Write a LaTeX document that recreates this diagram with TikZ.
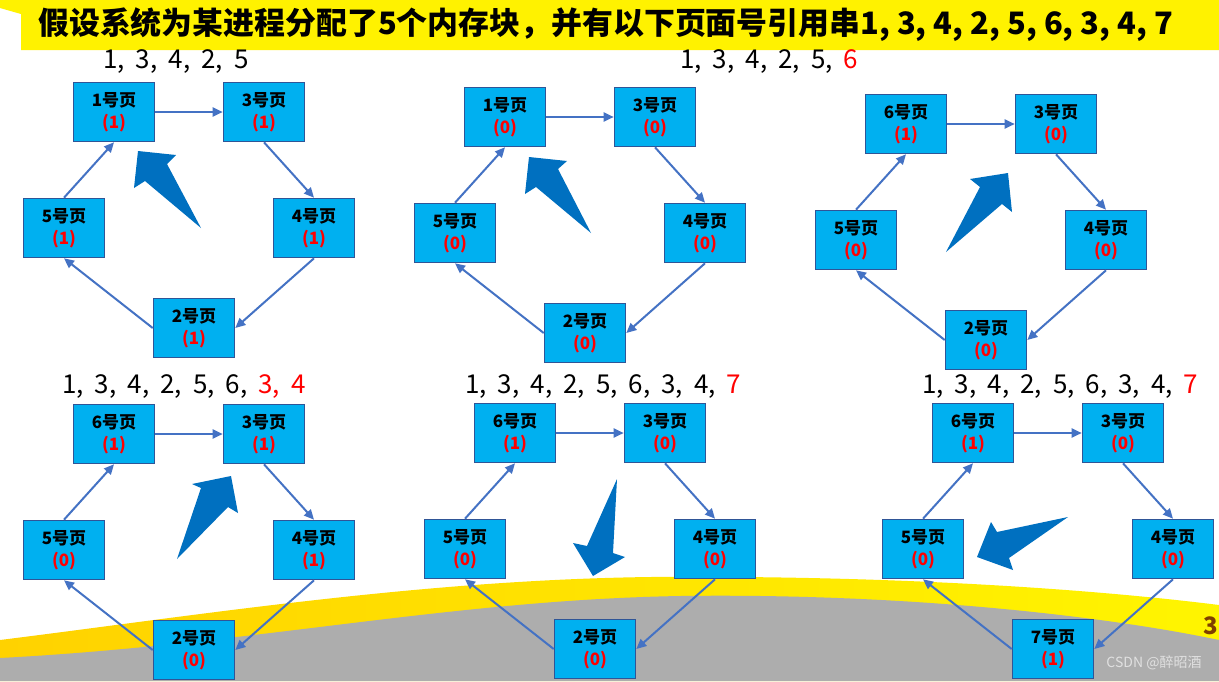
\documentclass[tikz,border=0pt]{standalone}
\usepackage{fontspec}
\setmainfont{Noto Sans CJK SC}
\newfontfamily\seqfont[WordSpace=1.9]{Noto Sans CJK SC}
\usetikzlibrary{arrows.meta}
\definecolor{boxfill}{HTML}{00B0F0}
\definecolor{boxline}{HTML}{2F5597}
\definecolor{linkblue}{HTML}{4472C4}
\definecolor{ptrblue}{HTML}{0070C0}
\definecolor{bandgold}{HTML}{FFD200}
\definecolor{bandyellow}{HTML}{FFF500}
\definecolor{ground}{HTML}{ADADAD}
\definecolor{pagenum}{HTML}{7F3F00}
\begin{document}
\begin{tikzpicture}[x=1pt,y=-1pt,
  pagebox/.style={draw=boxline, line width=1.6pt, fill=boxfill, minimum width=81pt, minimum height=59pt,
    inner sep=0pt, align=center, font=\bfseries\fontsize{17}{22}\selectfont},
  link/.style={draw=linkblue, line width=2pt, -{Triangle[length=10pt,width=9pt]}},
  ptr/.style={fill=ptrblue},
  seq/.style={anchor=base west, inner sep=0pt, font=\seqfont\fontsize{26}{30}\selectfont}]

\useasboundingbox (0,0) rectangle (1219,681);
\fill[white] (0,0) rectangle (1219,681);

% background band and ground
\shade[left color=bandgold, right color=bandyellow] (0,640) .. controls (200,615) and (420,580) .. (650,577)
  .. controls (900,575) and (1100,590) .. (1219,605) -- (1219,681) -- (0,681) -- cycle;
\fill[ground] (0,658) .. controls (250,645) and (450,600) .. (680,596)
  .. controls (900,593) and (1100,615) .. (1219,640) -- (1219,681) -- (0,681) -- cycle;
\node[text=pagenum, font=\bfseries\fontsize{24}{28}\selectfont, anchor=east, inner sep=0pt] (pnum) at (1218,626) {3};
\node[text=white!88!black, font=\fontsize{14}{16}\selectfont, inner sep=0pt] (mark) at (1154,663) {CSDN @醉昭酒};

% title
\fill[yellow] (0,0) -- (1219,0) -- (1219,50) -- (21,50) -- (21,14) -- (0,8) -- cycle;
\node[anchor=west, inner sep=0pt, font=\bfseries\fontsize{30.9}{34}\selectfont] (title) at (38,25)
  {假设系统为某进程分配了5个内存块，并有以下页面号引用串1, 3, 4, 2, 5, 6, 3, 4, 7};

% reference strings
\node[seq] (seqtl) at (103,68) {1, 3, 4, 2, 5};
\node[seq] (seqtm) at (680,68) {1, 3, 4, 2, 5, \textcolor{red}{6}};
\node[seq] (seqbl) at (62,393) {1, 3, 4, 2, 5, 6, \textcolor{red}{3, 4}};
\node[seq] (seqbm) at (465,393) {1, 3, 4, 2, 5, 6, 3, 4, \textcolor{red}{7}};
\node[seq] (seqbr) at (922,393) {1, 3, 4, 2, 5, 6, 3, 4, \textcolor{red}{7}};

% top left
\node[pagebox] (tl1) at (114,112) {1号页\\\textcolor{red}{(1)}};
\node[pagebox] (tl3) at (264,112) {3号页\\\textcolor{red}{(1)}};
\node[pagebox] (tl5) at (64,228) {5号页\\\textcolor{red}{(1)}};
\node[pagebox] (tl4) at (314,228) {4号页\\\textcolor{red}{(1)}};
\node[pagebox] (tl2) at (194,328) {2号页\\\textcolor{red}{(1)}};
\draw[link] (tl1.east) -- (tl3.west);
\draw[link] (tl3.south) -- (tl4.north);
\draw[link] (tl4.south) -- (tl2.east);
\draw[link] (tl2.west) -- (tl5.south);
\draw[link] (tl5.north) -- (tl1.south);
\fill[ptr] (138,151) -- (176,155) -- (167,164) -- (201,228) -- (145,181) -- (134,188) -- cycle;

% top middle
\node[pagebox] (tm1) at (505,117) {1号页\\\textcolor{red}{(0)}};
\node[pagebox] (tm3) at (655,117) {3号页\\\textcolor{red}{(0)}};
\node[pagebox] (tm5) at (455,233) {5号页\\\textcolor{red}{(0)}};
\node[pagebox] (tm4) at (705,233) {4号页\\\textcolor{red}{(0)}};
\node[pagebox] (tm2) at (585,333) {2号页\\\textcolor{red}{(0)}};
\draw[link] (tm1.east) -- (tm3.west);
\draw[link] (tm3.south) -- (tm4.north);
\draw[link] (tm4.south) -- (tm2.east);
\draw[link] (tm2.west) -- (tm5.south);
\draw[link] (tm5.north) -- (tm1.south);
\fill[ptr] (529,157) -- (567,161) -- (558,169) -- (591,233) -- (536,187) -- (525,194) -- cycle;

% top right
\node[pagebox] (tr6) at (906,124) {6号页\\\textcolor{red}{(1)}};
\node[pagebox] (tr3) at (1056,124) {3号页\\\textcolor{red}{(0)}};
\node[pagebox] (tr5) at (856,240) {5号页\\\textcolor{red}{(0)}};
\node[pagebox] (tr4) at (1106,240) {4号页\\\textcolor{red}{(0)}};
\node[pagebox] (tr2) at (986,340) {2号页\\\textcolor{red}{(0)}};
\draw[link] (tr6.east) -- (tr3.west);
\draw[link] (tr3.south) -- (tr4.north);
\draw[link] (tr4.south) -- (tr2.east);
\draw[link] (tr2.west) -- (tr5.south);
\draw[link] (tr5.north) -- (tr6.south);
\fill[ptr] (1008,173) -- (1012,212) -- (1002,204) -- (946,252) -- (980,187) -- (970,179) -- cycle;

% bottom left
\node[pagebox] (bl6) at (114,434) {6号页\\\textcolor{red}{(1)}};
\node[pagebox] (bl3) at (264,434) {3号页\\\textcolor{red}{(1)}};
\node[pagebox] (bl5) at (64,550) {5号页\\\textcolor{red}{(0)}};
\node[pagebox] (bl4) at (314,550) {4号页\\\textcolor{red}{(1)}};
\node[pagebox] (bl2) at (194,650) {2号页\\\textcolor{red}{(0)}};
\draw[link] (bl6.east) -- (bl3.west);
\draw[link] (bl3.south) -- (bl4.north);
\draw[link] (bl4.south) -- (bl2.east);
\draw[link] (bl2.west) -- (bl5.south);
\draw[link] (bl5.north) -- (bl6.south);
\fill[ptr] (231,476) -- (238,513) -- (228,507) -- (177,559) -- (201,488) -- (192,484) -- cycle;

% bottom middle
\node[pagebox] (bm6) at (515,433) {6号页\\\textcolor{red}{(1)}};
\node[pagebox] (bm3) at (665,433) {3号页\\\textcolor{red}{(0)}};
\node[pagebox] (bm5) at (465,549) {5号页\\\textcolor{red}{(0)}};
\node[pagebox] (bm4) at (715,549) {4号页\\\textcolor{red}{(0)}};
\node[pagebox] (bm2) at (595,649) {2号页\\\textcolor{red}{(0)}};
\draw[link] (bm6.east) -- (bm3.west);
\draw[link] (bm3.south) -- (bm4.north);
\draw[link] (bm4.south) -- (bm2.east);
\draw[link] (bm2.west) -- (bm5.south);
\draw[link] (bm5.north) -- (bm6.south);
\fill[ptr] (593,576) -- (573,543) -- (587,546) -- (617,479) -- (613,553) -- (625,557) -- cycle;

% bottom right
\node[pagebox] (br6) at (973,433) {6号页\\\textcolor{red}{(1)}};
\node[pagebox] (br3) at (1123,433) {3号页\\\textcolor{red}{(0)}};
\node[pagebox] (br5) at (923,549) {5号页\\\textcolor{red}{(0)}};
\node[pagebox] (br4) at (1173,549) {4号页\\\textcolor{red}{(0)}};
\node[pagebox] (br7) at (1053,649) {7号页\\\textcolor{red}{(1)}};
\draw[link] (br6.east) -- (br3.west);
\draw[link] (br3.south) -- (br4.north);
\draw[link] (br4.south) -- (br7.east);
\draw[link] (br7.west) -- (br5.south);
\draw[link] (br5.north) -- (br6.south);
\fill[ptr] (977,557) -- (991,522) -- (997,532) -- (1068,517) -- (1009,558) -- (1013,570) -- cycle;

\end{tikzpicture}
\end{document}
